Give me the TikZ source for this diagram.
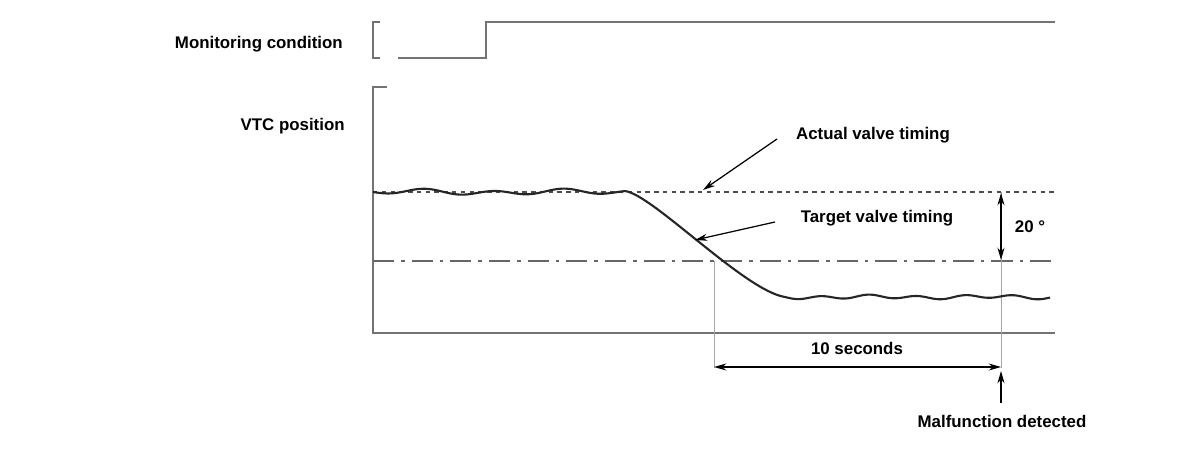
\documentclass[tikz,border=0pt]{standalone}
\usepackage{fontspec}
\setmainfont{Liberation Sans}
\usetikzlibrary{arrows.meta}
\begin{document}
\begin{tikzpicture}[x=0.02cm,y=-0.02cm,
  lbl/.style={font=\bfseries\fontsize{9.6pt}{11pt}\selectfont,inner sep=0pt},
  axis/.style={draw=black!55,line width=1.6pt},
  thin/.style={draw=black!35,line width=0.5pt},
  arr/.style={-{Stealth[length=7pt,width=4pt]},line width=0.7pt},
  darr/.style={{Stealth[length=7pt,width=4pt]}-{Stealth[length=7pt,width=4pt]},line width=0.7pt}]
\useasboundingbox (0,0) rectangle (1200,449);
% monitoring signal
\draw[axis] (380,22) -- (373,22) -- (373,58) -- (380,58);
\draw[axis] (398,58) -- (486,58) -- (486,22) -- (1055,22);
% VTC axes
\draw[axis] (387,87) -- (373,87) -- (373,333) -- (1055,333);
% reference lines
\draw[black!70,line width=0.8pt,dash pattern=on 2.5pt off 2.5pt] (373,192) -- (1055,192);
\draw[black!60,line width=0.9pt,dash pattern=on 12pt off 4pt on 2pt off 4pt] (373,261) -- (1055,261);
% guide lines
\coordinate (s) at (714,261);
\coordinate (e) at (1001,192);
\draw[thin] (s) -- (714,368);
\draw[thin] (e) -- (1001,368);
% curve
\draw[black!85,line width=1.2pt]
  plot[domain=373:625,samples=120,smooth] (\x,{192+2.2*sin((\x-373)*5.2)-1.2*sin((\x-373)*2.3)})
  .. controls (652,194) and (745,291) .. (785,297)
  plot[domain=785:1050,samples=140,smooth] (\x,{297+1.6*sin((\x-785)*7.5)+0.8*sin((\x-785)*3.1)});
% labels
\node[lbl,anchor=east] (mc) at (343,44) {Monitoring condition};
\node[lbl,anchor=east] (vtc) at (345,126) {VTC position};
\node[lbl] (avt) at (873,135) {Actual valve timing};
\node[lbl] (tvt) at (877,218) {Target valve timing};
\node[lbl] (deg) at (1030,227) {20 °};
\node[lbl] (ten) at (857,348) {10 seconds};
\node[lbl] (mal) at (1002,421) {Malfunction detected};
\coordinate (a1) at (777,139);
\coordinate (a2) at (703,190);
\coordinate (t1) at (775,222);
\coordinate (t2) at (695,240);
\draw[arr] (a1) -- (a2);
\draw[arr] (t1) -- (t2);
\draw[darr] (1001,193) -- (1001,260);
\draw[darr] (714,367) -- (1001,367);
\coordinate (m1) at (1001,403);
\draw[arr] (m1) -- (1001,371);
\end{tikzpicture}
\end{document}
